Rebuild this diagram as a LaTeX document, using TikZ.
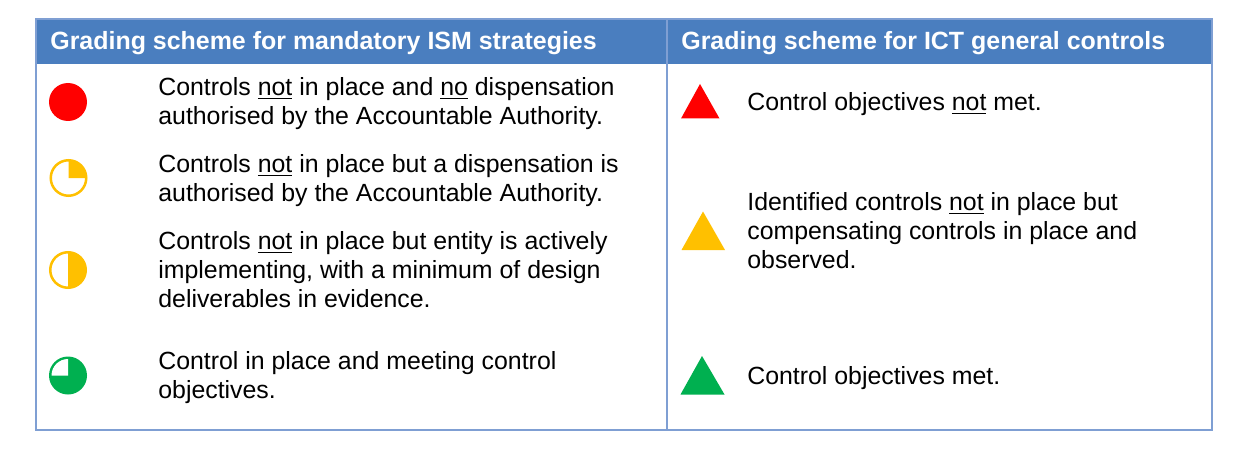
\documentclass[tikz,border=0pt]{standalone}
\usepackage{fontspec}
\setmainfont{Liberation Sans}
\definecolor{headblue}{HTML}{4A7EBF}
\definecolor{lineblue}{HTML}{7F9FD3}
\definecolor{gradered}{HTML}{FF0000}
\definecolor{gradeamber}{HTML}{FFC000}
\definecolor{gradegreen}{HTML}{00B050}
\def\pieslice[#1](#2)(#3:#4:#5){\fill[#1] (#2) -- ++(#3:#5) arc (#3:#4:#5) -- cycle;}
\tikzset{
	headtext/.style={anchor=west, inner sep=0pt, text=white, font=\fontsize{14.2}{17}\selectfont\bfseries},
	gradetext/.style={anchor=west, inner sep=0pt, align=left, font=\fontsize{14.15}{16.5}\selectfont},
	tableline/.style={draw=lineblue, line width=0.03cm}
}
\begin{document}
\begin{tikzpicture}
		%%%%% START %%%%%
		\useasboundingbox (0, 0) rectangle (24.98, 9);
		\fill[white] (0, 0) rectangle (24.98, 9);
		
		\fill[headblue] (0.72, 8.62) rectangle (24.24, 7.72);
		\draw[tableline] (0.72, 8.62) rectangle (24.24, 0.4);
		\draw[tableline] (13.34, 8.62) -- (13.34, 0.4);
		
		\node[headtext] (headism) at (1.0, 8.13) {Grading scheme for mandatory ISM strategies};
		\node[headtext] (headict) at (13.62, 8.13) {Grading scheme for ICT general controls};
		
		\fill[gradered] (1.36, 6.96) circle (0.38);
		
		\draw[gradeamber, line width=0.05cm, fill=white] (1.37, 5.44) circle (0.355);
		\pieslice[gradeamber](1.37, 5.44)(0:90:0.355)
		
		\draw[gradeamber, line width=0.05cm, fill=white] (1.36, 3.6) circle (0.355);
		\pieslice[gradeamber](1.36, 3.6)(-90:90:0.355)
		
		\fill[gradegreen] (1.36, 1.49) circle (0.38);
		\pieslice[white](1.36, 1.49)(90:180:0.33)
		
		\node[gradetext] (ismred) at (3.16, 6.92) {Controls \underline{not} in place and \underline{no} dispensation\\authorised by the Accountable Authority.};
		\node[gradetext] (ismquarter) at (3.16, 5.38) {Controls \underline{not} in place but a dispensation is\\authorised by the Accountable Authority.};
		\node[gradetext] (ismhalf) at (3.16, 3.6) {Controls \underline{not} in place but entity is actively\\implementing, with a minimum of design\\deliverables in evidence.};
		\node[gradetext] (ismgreen) at (3.16, 1.44) {Control in place and meeting control\\objectives.};
		
		\fill[gradered] (14.0, 7.32) -- (14.39, 6.63) -- (13.62, 6.63) -- cycle;
		\fill[gradeamber] (14.06, 4.77) -- (14.5, 4.0) -- (13.63, 4.0) -- cycle;
		\fill[gradegreen] (14.04, 1.88) -- (14.49, 1.11) -- (13.61, 1.11) -- cycle;
		
		\node[gradetext] (ictred) at (14.94, 6.92) {Control objectives \underline{not} met.};
		\node[gradetext] (ictamber) at (14.94, 4.38) {Identified controls \underline{not} in place but\\compensating controls in place and\\observed.};
		\node[gradetext] (ictgreen) at (14.94, 1.43) {Control objectives met.};
		%%%%% END %%%%%
	\end{tikzpicture}
\end{document}
